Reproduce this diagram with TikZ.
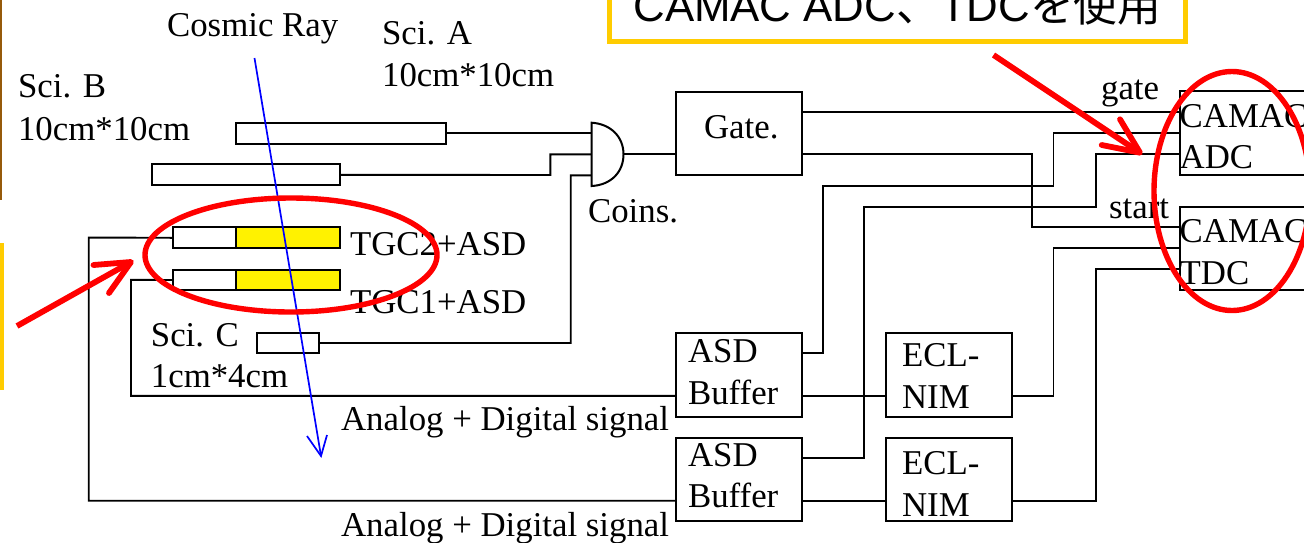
\documentclass[tikz,border=0pt]{standalone}
\usepackage{fontspec}
\setmainfont{Liberation Serif}
\newfontfamily\cjk{Noto Sans CJK JP}
\newfontfamily\latinsans{Liberation Sans}
\usetikzlibrary{arrows.meta}
\definecolor{calloutY}{RGB}{255,204,0}
\definecolor{redmark}{RGB}{255,0,0}
\definecolor{edgebrown}{RGB}{150,90,10}
\tikzset{
  x=0.5pt,y=-0.5pt,
  wire/.style={draw=black,line width=0.95pt},
  box/.style={draw=black,line width=1pt,fill=white,outer sep=0pt,inner sep=0pt,anchor=north west},
  lab/.style={font=\fontsize{17.4}{20}\selectfont,inner sep=0pt,anchor=base west},
  marker/.style={draw=redmark,line width=2.9pt,line cap=round,line join=round},
  ring/.style={draw=redmark,line width=2.7pt},
  rayline/.style={draw=blue,line width=0.85pt}
}
\begin{document}
\begin{tikzpicture}
\useasboundingbox (0,0) rectangle (1304,542);
\clip (0,0) rectangle (1304,542);
% fragments of slide at the left edge
\fill[edgebrown] (0,0) rectangle (1.5,200);
\fill[calloutY] (0,243) rectangle (4,390);
% callout
\node[draw=calloutY,line width=2.5pt,fill=white,minimum width=287.75pt,minimum height=60pt,inner sep=0pt,outer sep=0pt,anchor=south west] (call) at (609.5,41.5) {};
\node[inner sep=0pt,anchor=base west,font=\fontsize{21.9}{24}\selectfont] (calltxt) at (633,21.2) {\latinsans CAMAC ADC\cjk 、\latinsans TDC\cjk を使用};
% scintillators
\node[box,minimum width=105pt,minimum height=10.6pt] (sciA) at (235.7,122.7) {};
\node[box,minimum width=94.3pt,minimum height=10.5pt] (sciB) at (151.7,164.3) {};
\node[box,minimum width=31.2pt,minimum height=10.3pt] (sciC) at (257,332.7) {};
% TGCs
\node[box,minimum width=31.7pt,minimum height=10.5pt] (tgcTwoL) at (172.7,227.3) {};
\node[box,fill=yellow,minimum width=52.2pt,minimum height=10.5pt] (tgcTwoR) at (236,227.3) {};
\node[box,minimum width=31.7pt,minimum height=10.3pt] (tgcOneL) at (172.7,269.7) {};
\node[box,fill=yellow,minimum width=52.2pt,minimum height=10.3pt] (tgcOneR) at (236,269.7) {};
% AND gate
\coordinate (andT) at (591.7,122.7);
\coordinate (andB) at (591.7,186);
\draw[draw=black,line width=1pt,fill=white] (andT) .. controls (611,124) and (623.5,137) .. (623.5,154.3) .. controls (623.5,172) and (611,185) .. (andB) -- cycle;
\coordinate (andIa) at (591.7,133.3);
\coordinate (andIb) at (591.7,154.3);
\coordinate (andIc) at (591.7,175.3);
\coordinate (andO) at (623.5,154.3);
% boxes
\node[box,minimum width=63.2pt,minimum height=41.8pt] (gate) at (675.7,91.7) {};
\node[box,minimum width=63.2pt,minimum height=41.7pt] (bufA) at (675.7,333.3) {};
\node[box,minimum width=63.2pt,minimum height=41.4pt] (bufB) at (675.7,438) {};
\node[box,minimum width=63.2pt,minimum height=41.7pt] (eclA) at (885.7,333.3) {};
\node[box,minimum width=63.2pt,minimum height=41.4pt] (eclB) at (885.7,438) {};
\node[box,minimum width=80pt,minimum height=42pt] (adc) at (1179.7,91) {};
\node[box,minimum width=80pt,minimum height=41.8pt] (tdc) at (1179.7,206.7) {};
% wires
\draw[wire] (sciA.east) -- (andIa);
\draw[wire] (sciB.east) -- (550.3,175) |- (andIb);
\draw[wire] (sciC.east) -- (570.7,343) |- (andIc);
\draw[wire] (andO) -- (gate.west |- andO);
\draw[wire] (tgcTwoL.west) -- (88.7,237.55) -- (88.7,500.7) -- (bufB.west |- 0,500.7);
\draw[wire] (tgcOneL.west) -- (131,279.85) -- (131,395.8) -- (bufA.west |- 0,395.8);
\draw[wire] (gate.east |- 0,112.3) -- (adc.west |- 0,112.3);
\draw[wire] (gate.east |- 0,154.2) -- (1032.3,154.2) -- (1032.3,227.3) -- (tdc.west |- 0,227.3);
\draw[wire] (bufA.east |- 0,353.3) -- (823,353.3) -- (823,185.7) -- (1053.5,185.7) -- (1053.5,133.3) -- (adc.west |- 0,133.3);
\draw[wire] (bufB.east |- 0,458.3) -- (864.3,458.3) -- (864.3,206.7) -- (1095.7,206.7) -- (1095.7,154.2) -- (adc.west |- 0,154.2);
\draw[wire] (bufA.east |- 0,395.8) -- (eclA.west |- 0,395.8);
\draw[wire] (bufB.east |- 0,500.7) -- (eclB.west |- 0,500.7);
\draw[wire] (eclA.east |- 0,395.8) -- (1053.5,395.8) -- (1053.5,248.3) -- (tdc.west |- 0,248.3);
\draw[wire] (eclB.east |- 0,500.7) -- (1095.7,500.7) -- (1095.7,269.3) -- (tdc.west |- 0,269.3);
% labels
\node[lab] (tCosmic) at (166.7,36) {Cosmic Ray};
\node[lab] (tSciA) at (381.7,44) {Sci. A};
\node[lab] (tSciAs) at (381.7,86) {10cm*10cm};
\node[lab] (tSciB) at (17.7,97) {Sci. B};
\node[lab] (tSciBs) at (17.7,140) {10cm*10cm};
\node[lab] (tTgcTwo) at (349.7,255) {TGC2+ASD};
\node[lab] (tTgcOne) at (349.7,313) {TGC1+ASD};
\node[lab] (tSciC) at (150.5,346) {Sci. C};
\node[lab] (tSciCs) at (150.5,387) {1cm*4cm};
\node[lab] (tCoins) at (587.7,222) {Coins.};
\node[lab] (tGate) at (703.7,138) {Gate.};
\node[lab] (tGateS) at (1100.7,99) {gate};
\node[lab] (tStart) at (1108.7,218) {start};
\node[lab] (tAdcA) at (1179.3,127) {CAMAC};
\node[lab] (tAdcB) at (1179.3,168) {ADC};
\node[lab] (tTdcA) at (1179.3,242) {CAMAC};
\node[lab] (tTdcB) at (1179.3,284) {TDC};
\node[lab] (tBufA) at (687.7,362) {ASD};
\node[lab] (tBufAb) at (687.7,404) {Buffer};
\node[lab] (tBufB) at (687.7,466) {ASD};
\node[lab] (tBufBb) at (687.7,507) {Buffer};
\node[lab] (tEclA) at (901.7,366) {ECL-};
\node[lab] (tEclAb) at (901.7,408) {NIM};
\node[lab] (tEclB) at (901.7,474) {ECL-};
\node[lab] (tEclBb) at (901.7,516) {NIM};
\node[lab] (tSigA) at (340.7,430) {Analog + Digital signal};
\node[lab] (tSigB) at (340.7,536) {Analog + Digital signal};
% cosmic ray
\coordinate (rayS) at (254.5,58);
\coordinate (rayE) at (321,456);
\draw[rayline] (rayS) -- (rayE);
\draw[rayline] (307,436) -- (rayE) -- (327,435);
% red marks
\draw[ring] (291,255) ellipse [x radius=146,y radius=57];
\draw[ring] (1232,191) ellipse [x radius=78,y radius=119.5];
\coordinate (arL) at (17,326);
\coordinate (arLh) at (131,262);
\draw[marker,line cap=butt] (arL) -- (arLh);
\draw[marker] (93.5,265) -- (arLh) -- (109,293);
\coordinate (arR) at (993.5,55);
\coordinate (arRh) at (1140,152.7);
\draw[marker,line cap=butt] (arR) -- (arRh);
\draw[marker] (1120,119.3) -- (arRh) -- (1101.7,145);
\end{tikzpicture}
\end{document}
